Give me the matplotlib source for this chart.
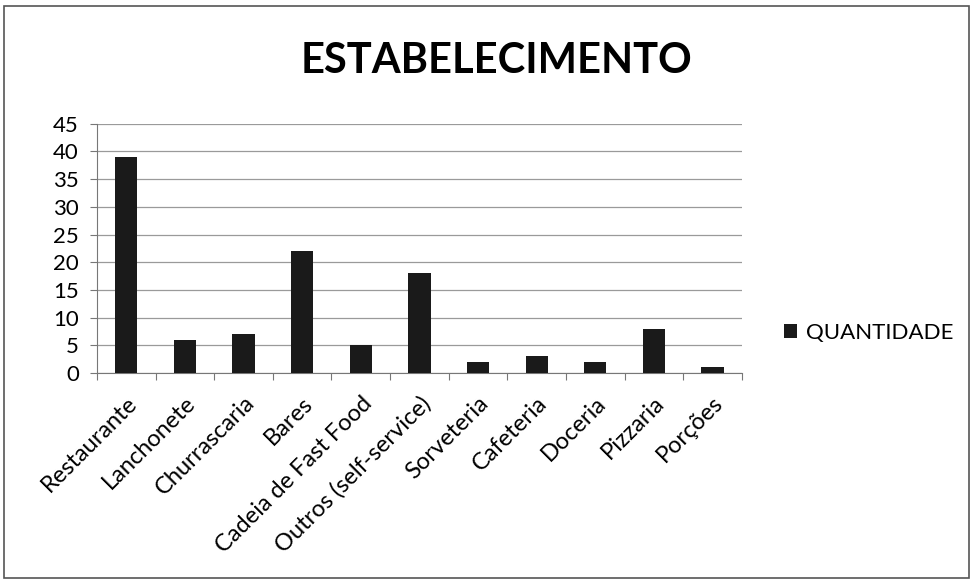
import numpy as np
import matplotlib
matplotlib.use('Agg')
import matplotlib.pyplot as plt
from matplotlib.patches import Rectangle

categorias = ['Restaurante', 'Lanchonete', 'Churrascaria', 'Bares',
              'Cadeia de Fast Food', 'Outros (self-service)', 'Sorveteria',
              'Cafeteria', 'Doceria', 'Pizzaria', 'Porções']
quantidade = [39, 6, 7, 22, 5, 18, 2, 3, 2, 8, 1]
y_ticks = [0, 5, 10, 15, 20, 25, 30, 35, 40, 45]

plt.rcParams['font.family'] = ['Lato', 'DejaVu Sans']

fig = plt.figure(figsize=(9.74, 5.81), dpi=100)
ax = fig.add_axes([0.0996, 0.358, 0.662, 0.429])

x = np.arange(len(categorias))
ax.bar(x, quantidade, width=0.38, color='#1a1a1a', zorder=3, label='QUANTIDADE')

ax.set_xlim(-0.5, len(categorias) - 0.5)
ax.set_ylim(0, 45)
ax.set_yticks(y_ticks)
ax.yaxis.grid(True, color='#9a9a9a', linewidth=0.9, zorder=0)

# category ticks between bars, like Excel
ax.set_xticks(np.arange(-0.5, len(categorias)), minor=False)
ax.set_xticklabels([])
ax.set_xticks(x, minor=True)
ax.set_xticklabels(categorias, minor=True, rotation=45, ha='right',
                   rotation_mode='anchor', fontsize=17)
ax.tick_params(axis='x', which='minor', length=0, pad=14)
ax.tick_params(axis='x', which='major', length=5, color='#777777')
ax.tick_params(axis='y', labelsize=16, length=5, color='#777777', pad=8)

for side in ['top', 'right']:
    ax.spines[side].set_visible(False)
ax.spines['left'].set_color('#777777')
ax.spines['bottom'].set_color('#777777')

fig.text(0.51, 0.895, 'ESTABELECIMENTO', ha='center', va='center',
         fontsize=30, fontweight='bold')

leg = fig.legend(loc='center left', bbox_to_anchor=(0.784, 0.427), frameon=False,
                 fontsize=16, handlelength=0.6, handleheight=0.6, handletextpad=0.4)

fig.patches.append(Rectangle((0.004, 0.006), 0.991, 0.984, transform=fig.transFigure,
                             fill=False, edgecolor='#555555', linewidth=1.2))

fig.savefig('out.png', dpi=100, facecolor='white')
